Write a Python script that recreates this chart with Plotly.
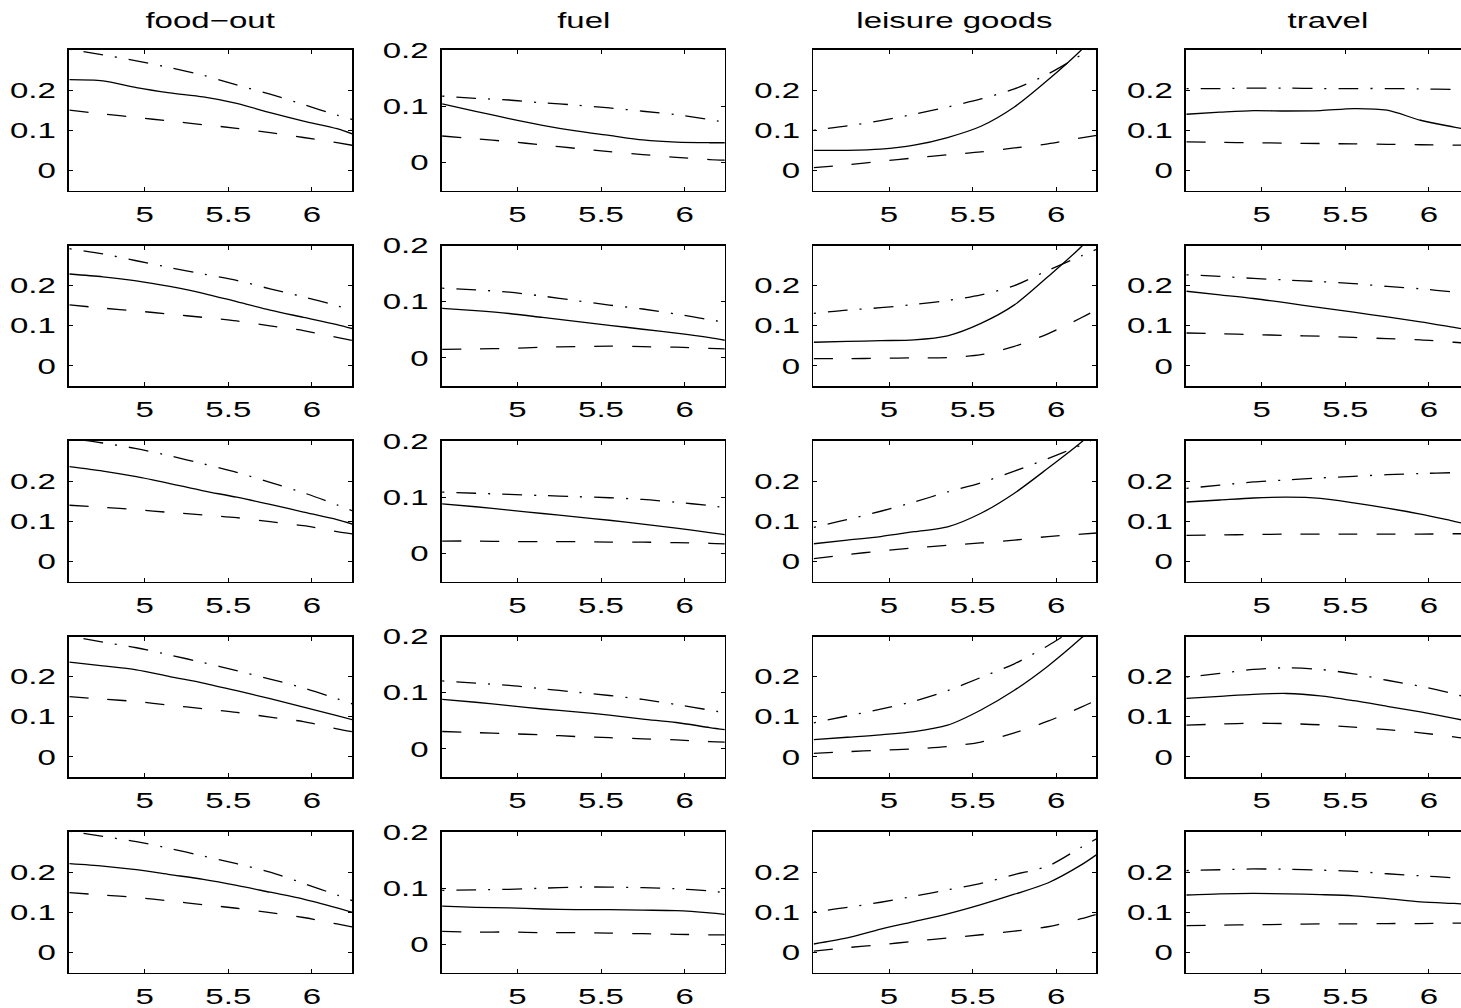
import plotly.graph_objects as go

# common abscissa for every panel
x_grid = [4.55, 4.75, 4.95, 5.15, 5.35, 5.55, 5.75, 5.95, 6.15, 6.25]

categories = ["food−out", "fuel", "leisure goods", "travel"]

# Each list holds five rows (top to bottom); each row follows x_grid.
food_out_est = [
    [0.226, 0.223, 0.206, 0.193, 0.183, 0.167, 0.144, 0.123, 0.104, 0.090],
    [0.229, 0.222, 0.212, 0.198, 0.181, 0.160, 0.139, 0.121, 0.103, 0.092],
    [0.236, 0.225, 0.211, 0.194, 0.176, 0.160, 0.142, 0.123, 0.104, 0.092],
    [0.236, 0.227, 0.217, 0.200, 0.184, 0.165, 0.145, 0.124, 0.103, 0.092],
    [0.221, 0.215, 0.206, 0.194, 0.182, 0.167, 0.150, 0.133, 0.111, 0.099],
]
food_out_upper = [
    [0.302, 0.288, 0.273, 0.256, 0.237, 0.213, 0.190, 0.164, 0.138, 0.126],
    [0.292, 0.279, 0.262, 0.245, 0.229, 0.213, 0.192, 0.172, 0.150, 0.138],
    [0.307, 0.295, 0.281, 0.263, 0.243, 0.222, 0.197, 0.171, 0.141, 0.125],
    [0.301, 0.286, 0.272, 0.254, 0.235, 0.215, 0.194, 0.172, 0.145, 0.131],
    [0.302, 0.289, 0.276, 0.259, 0.240, 0.221, 0.200, 0.172, 0.143, 0.128],
]
food_out_lower = [
    [0.150, 0.141, 0.132, 0.123, 0.114, 0.105, 0.094, 0.082, 0.069, 0.062],
    [0.152, 0.144, 0.137, 0.129, 0.121, 0.112, 0.100, 0.088, 0.071, 0.063],
    [0.140, 0.135, 0.129, 0.122, 0.116, 0.109, 0.099, 0.089, 0.074, 0.068],
    [0.150, 0.144, 0.138, 0.129, 0.120, 0.111, 0.099, 0.088, 0.070, 0.062],
    [0.149, 0.143, 0.137, 0.128, 0.119, 0.110, 0.099, 0.087, 0.071, 0.063],
]

fuel_est = [
    [0.104, 0.091, 0.078, 0.066, 0.056, 0.048, 0.040, 0.036, 0.035, 0.035],
    [0.088, 0.084, 0.079, 0.072, 0.065, 0.058, 0.051, 0.044, 0.036, 0.031],
    [0.088, 0.083, 0.077, 0.071, 0.065, 0.059, 0.052, 0.045, 0.037, 0.033],
    [0.088, 0.083, 0.077, 0.071, 0.066, 0.060, 0.053, 0.047, 0.038, 0.034],
    [0.068, 0.066, 0.065, 0.063, 0.062, 0.062, 0.061, 0.060, 0.056, 0.053],
]
fuel_upper = [
    [0.118, 0.114, 0.111, 0.106, 0.102, 0.097, 0.091, 0.085, 0.076, 0.071],
    [0.124, 0.121, 0.117, 0.110, 0.102, 0.094, 0.087, 0.078, 0.068, 0.063],
    [0.109, 0.107, 0.105, 0.103, 0.101, 0.099, 0.096, 0.091, 0.085, 0.081],
    [0.121, 0.117, 0.113, 0.107, 0.101, 0.095, 0.088, 0.079, 0.069, 0.064],
    [0.096, 0.097, 0.098, 0.100, 0.102, 0.102, 0.101, 0.099, 0.095, 0.092],
]
fuel_lower = [
    [0.047, 0.042, 0.037, 0.031, 0.025, 0.019, 0.014, 0.009, 0.005, 0.004],
    [0.015, 0.016, 0.017, 0.019, 0.020, 0.021, 0.020, 0.019, 0.017, 0.016],
    [0.022, 0.022, 0.021, 0.021, 0.021, 0.020, 0.020, 0.019, 0.018, 0.017],
    [0.031, 0.029, 0.027, 0.025, 0.022, 0.020, 0.018, 0.016, 0.013, 0.012],
    [0.023, 0.022, 0.022, 0.021, 0.021, 0.020, 0.019, 0.018, 0.017, 0.017],
]

leisure_est = [
    [0.050, 0.050, 0.053, 0.063, 0.082, 0.110, 0.158, 0.225, 0.300, 0.345],
    [0.059, 0.061, 0.063, 0.065, 0.075, 0.106, 0.152, 0.222, 0.297, 0.345],
    [0.044, 0.053, 0.062, 0.074, 0.086, 0.120, 0.170, 0.232, 0.297, 0.335],
    [0.043, 0.049, 0.055, 0.063, 0.079, 0.117, 0.166, 0.226, 0.296, 0.335],
    [0.021, 0.036, 0.058, 0.077, 0.096, 0.119, 0.145, 0.173, 0.218, 0.246],
]
leisure_upper = [
    [0.100, 0.111, 0.124, 0.140, 0.158, 0.178, 0.203, 0.240, 0.288, 0.315],
    [0.131, 0.139, 0.145, 0.153, 0.163, 0.177, 0.200, 0.238, 0.274, 0.292],
    [0.085, 0.104, 0.125, 0.148, 0.173, 0.196, 0.225, 0.256, 0.290, 0.310],
    [0.085, 0.102, 0.119, 0.139, 0.165, 0.198, 0.232, 0.277, 0.330, 0.360],
    [0.101, 0.112, 0.125, 0.140, 0.156, 0.172, 0.194, 0.215, 0.262, 0.285],
]
leisure_lower = [
    [0.007, 0.014, 0.023, 0.031, 0.039, 0.046, 0.056, 0.066, 0.081, 0.088],
    [0.018, 0.018, 0.019, 0.020, 0.021, 0.028, 0.049, 0.080, 0.120, 0.142],
    [0.007, 0.017, 0.026, 0.034, 0.040, 0.046, 0.053, 0.062, 0.068, 0.071],
    [0.009, 0.013, 0.017, 0.020, 0.026, 0.037, 0.060, 0.089, 0.124, 0.143],
    [0.003, 0.012, 0.019, 0.028, 0.036, 0.044, 0.053, 0.064, 0.084, 0.096],
]

travel_est = [
    [0.140, 0.145, 0.149, 0.148, 0.149, 0.154, 0.150, 0.125, 0.108, 0.100],
    [0.186, 0.177, 0.168, 0.157, 0.145, 0.134, 0.122, 0.110, 0.096, 0.089],
    [0.148, 0.153, 0.158, 0.160, 0.157, 0.146, 0.133, 0.118, 0.100, 0.091],
    [0.146, 0.151, 0.156, 0.158, 0.152, 0.140, 0.126, 0.112, 0.096, 0.088],
    [0.143, 0.146, 0.147, 0.146, 0.144, 0.141, 0.134, 0.126, 0.122, 0.120],
]
travel_upper = [
    [0.204, 0.204, 0.205, 0.205, 0.204, 0.204, 0.204, 0.203, 0.202, 0.202],
    [0.227, 0.223, 0.218, 0.214, 0.210, 0.205, 0.198, 0.192, 0.184, 0.180],
    [0.182, 0.190, 0.198, 0.203, 0.208, 0.212, 0.216, 0.219, 0.221, 0.221],
    [0.199, 0.208, 0.218, 0.222, 0.218, 0.207, 0.191, 0.176, 0.157, 0.146],
    [0.204, 0.206, 0.208, 0.207, 0.205, 0.202, 0.196, 0.191, 0.186, 0.184],
]
travel_lower = [
    [0.071, 0.070, 0.069, 0.068, 0.067, 0.066, 0.065, 0.064, 0.063, 0.063],
    [0.082, 0.080, 0.078, 0.076, 0.074, 0.071, 0.068, 0.065, 0.059, 0.056],
    [0.065, 0.066, 0.067, 0.068, 0.068, 0.068, 0.068, 0.068, 0.069, 0.069],
    [0.079, 0.082, 0.084, 0.083, 0.080, 0.074, 0.068, 0.060, 0.050, 0.044],
    [0.067, 0.068, 0.069, 0.070, 0.071, 0.071, 0.072, 0.072, 0.073, 0.073],
]

x_tick_vals = [5, 5.5, 6]
x_tick_text = ["5", "5.5", "6"]
y_tick_vals = [0, 0.1, 0.2]
y_tick_text = ["0", "0.1", "0.2"]

panel_series = [
    (food_out_est, food_out_upper, food_out_lower),
    (fuel_est, fuel_upper, fuel_lower),
    (leisure_est, leisure_upper, leisure_lower),
    (travel_est, travel_upper, travel_lower),
]
y_ranges = [[-0.05, 0.3], [-0.05, 0.2], [-0.05, 0.3], [-0.05, 0.3]]

# page geometry in pixels
W, H = 1461, 1008
col_left = [69, 441.7, 813.3, 1186]
col_width = 283
row_top = [50, 245.5, 441, 636.5, 832]
row_height = 140.5
x_lo = 4.547
px_per_unit = col_width / (6.24 - x_lo)

font_family = "Liberation Sans, Arial, Helvetica, sans-serif"
tick_font = dict(family=font_family, size=22, color="black")

styles = [
    dict(dash="solid"),
    dict(dash="2px,12px,20px,12px"),
    dict(dash="19px,19px"),
]

fig = go.Figure()
layout = dict(
    width=W, height=H, autosize=False,
    margin=dict(l=0, r=0, t=0, b=0, autoexpand=False),
    paper_bgcolor="white", plot_bgcolor="white",
    showlegend=False,
)

annotations = []
for r in range(5):
    for c in range(4):
        k = r * 4 + c + 1
        xa = "x" if k == 1 else f"x{k}"
        ya = "y" if k == 1 else f"y{k}"
        left = col_left[c]
        right = min(left + col_width, W)
        x_hi = x_lo + (right - left) / px_per_unit
        top = row_top[r]
        bottom = top + row_height

        for series, st in zip(panel_series[c], styles):
            fig.add_trace(go.Scatter(
                x=x_grid, y=series[r], mode="lines",
                line=dict(color="black", width=1.3, shape="spline",
                          smoothing=0.8, dash=st["dash"]),
                xaxis=xa, yaxis=ya, hoverinfo="skip",
            ))

        layout["xaxis" if k == 1 else f"xaxis{k}"] = dict(
            domain=[left / W, right / W], range=[x_lo, x_hi],
            anchor=ya, showline=True, linecolor="black", linewidth=1.7,
            mirror="allticks", ticks="inside", ticklen=4, tickwidth=1,
            tickcolor="black", tickvals=x_tick_vals, ticktext=x_tick_text,
            showgrid=False, zeroline=False, tickfont=tick_font,
            ticklabelstandoff=3, fixedrange=True,
        )
        layout["yaxis" if k == 1 else f"yaxis{k}"] = dict(
            domain=[1 - bottom / H, 1 - top / H], range=y_ranges[c],
            anchor=xa, showline=True, linecolor="black", linewidth=1.7,
            mirror=("allticks" if c < 3 else False), ticks="inside",
            ticklen=4, tickwidth=1, tickcolor="black",
            tickvals=y_tick_vals, ticktext=y_tick_text,
            showgrid=False, zeroline=False, tickfont=tick_font,
            ticklabelstandoff=7, fixedrange=True,
        )

for c, name in enumerate(categories):
    left = col_left[c]
    center = left + col_width / 2
    annotations.append(dict(
        text=name, x=center / W, y=1 - 20 / H, xref="paper", yref="paper",
        xanchor="center", yanchor="middle", showarrow=False,
        font=dict(family=font_family, size=22, color="black"),
    ))
layout["annotations"] = annotations
fig.update_layout(**layout)

# labels in this figure are drawn wide: widen each glyph run horizontally
widen_text = """
var gd = document.getElementById('{plot_id}');
gd.querySelectorAll('.xaxislayer-above text, .yaxislayer-above text, .annotation-text').forEach(function(t) {
    var w = t.getComputedTextLength();
    t.setAttribute('textLength', (w * 1.5).toFixed(2));
    t.setAttribute('lengthAdjust', 'spacingAndGlyphs');
});
"""

fig.write_html("out.html", config={"staticPlot": True}, post_script=widen_text)
